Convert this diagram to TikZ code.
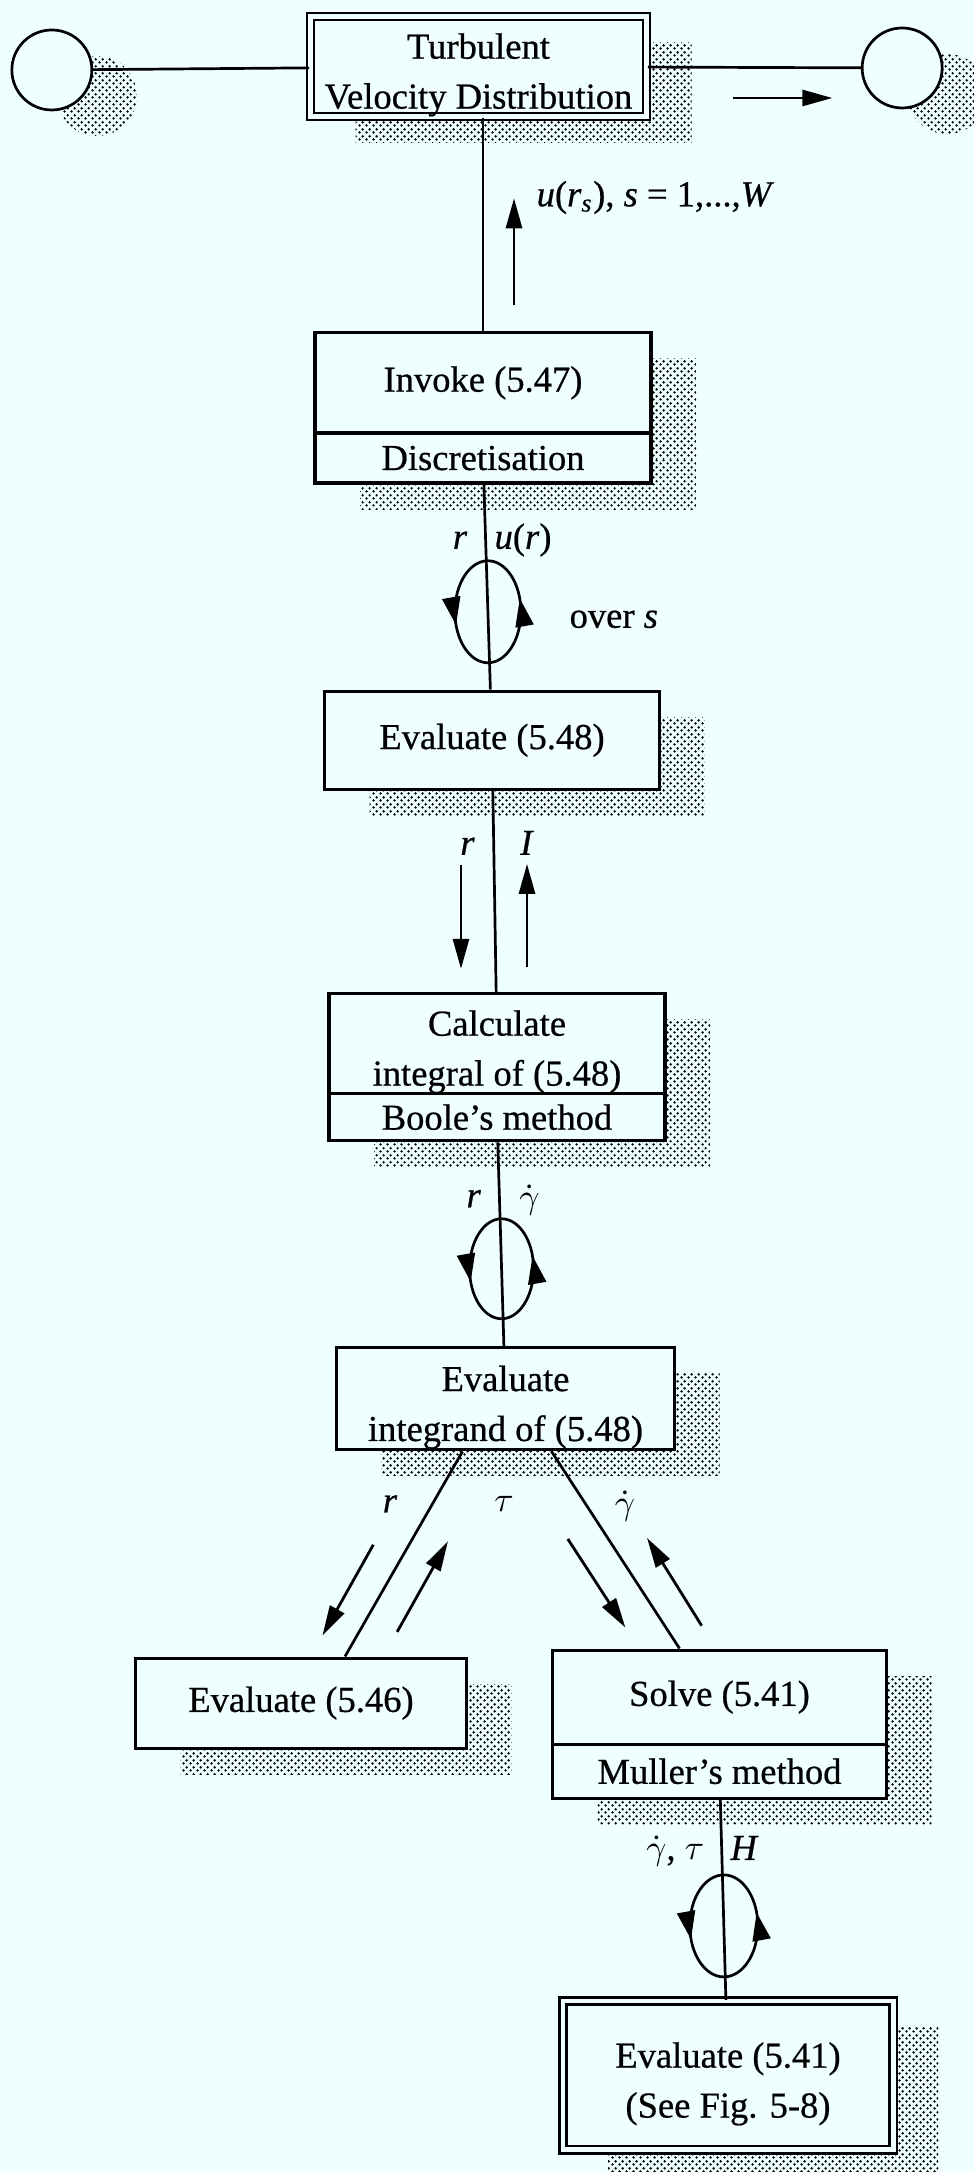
\documentclass[tikz,border=0pt]{standalone}
\usepackage{fontspec}
\setmainfont{Liberation Serif}[FakeBold=0.6]
\usetikzlibrary{positioning, calc, arrows.meta, patterns, decorations.markings}

\definecolor{paper}{RGB}{239,255,255}

% fine stipple used for the offset shadows
\pgfdeclarepatternformonly{shadedots}{\pgfqpoint{0pt}{0pt}}{\pgfqpoint{2pt}{2pt}}{\pgfqpoint{2pt}{2pt}}{%
  \pgfpathcircle{\pgfqpoint{0.5pt}{0.5pt}}{0.42pt}%
  \pgfpathcircle{\pgfqpoint{1.5pt}{1.5pt}}{0.42pt}%
  \pgfusepath{fill}}

% pushes two-line box texts a little lower
\newcommand{\boxlift}{\rule{0pt}{12pt}}

\begin{document}
\begin{tikzpicture}[
        font=\fontsize{10.4}{14.2}\selectfont,
        dotshadow/.style={preaction={pattern=shadedots, transform canvas={shift={(4.5mm,-2.6mm)}}}},
        proc/.style={rectangle, draw=black, fill=paper, line width=0.32mm, minimum width=3.36cm, inner sep=0pt, align=center, dotshadow},
        framed/.style={proc, line width=0.26mm, double=paper, double distance=0.45mm},
        circ/.style={circle, draw=black, fill=paper, line width=0.27mm, minimum size=0.8cm, inner sep=0pt, dotshadow},
        tag/.style={inner sep=0pt},
        link/.style={line width=0.27mm},
        flow/.style={line width=0.28mm, -{Triangle[length=3mm,width=1.6mm]}},
        loopmark/.style={postaction={decorate, decoration={markings,
            mark=at position 0.6 with {\arrow{Triangle[length=2.8mm,width=1.8mm]}}}}}
        ]
        \useasboundingbox[fill=paper] (0,0) rectangle (9.74,-21.72);

        % boxes
        \node[framed, minimum height=0.94cm] (turb) at (4.785,-0.665) {\boxlift Turbulent\\Velocity Distribution};
        \node[circ, left=2.16cm of turb, yshift=-0.035cm] (inlet) {};
        \node[circ, right=2.13cm of turb, yshift=-0.015cm] (outlet) {};
        \node[proc, minimum height=1.00cm, below=2.135cm of turb, xshift=0.045cm] (invoke) {Invoke (5.47)};
        \node[proc, minimum height=0.5cm, below=-0.3mm of invoke] (invokemeth) {Discretisation};
        \node[proc, minimum width=3.35cm, minimum height=0.98cm, below=2.05cm of invokemeth, xshift=0.09cm] (evalA) {Evaluate (5.48)};
        \node[proc, minimum height=1.00cm, below=2.01cm of evalA, xshift=0.05cm] (calc) {\boxlift Calculate\\integral of (5.48)};
        \node[proc, minimum height=0.47cm, below=-0.3mm of calc] (calcmeth) {Boole's method};
        \node[proc, minimum width=3.38cm, minimum height=1.02cm, below=2.04cm of calcmeth, xshift=0.085cm] (integrand) {\boxlift Evaluate\\integrand of (5.48)};
        \node[proc, minimum width=3.31cm, minimum height=0.9cm, below=2.05cm of integrand, xshift=-2.045cm] (evalB) {Evaluate (5.46)};
        \node[proc, minimum width=3.34cm, minimum height=0.94cm, below=1.97cm of integrand, xshift=2.14cm] (solve) {Solve (5.41)};
        \node[proc, minimum width=3.34cm, minimum height=0.54cm, below=-0.3mm of solve] (solvemeth) {Muller's method};
        \node[framed, minimum width=3.305cm, minimum height=1.485cm, below=2.0cm of solvemeth, xshift=0.085cm] (final) {\boxlift Evaluate (5.41)\\(See Fig. 5-8)};

        % connectors
        \draw[link] (inlet) -- (turb);
        \draw[link] (turb) -- (outlet);
        \draw[link] (invoke.north) -- (invoke.north |- turb.south);
        \draw[link] (invokemeth) -- (evalA) coordinate[pos=0.62] (loopA);
        \draw[link] (evalA) -- (calc) coordinate[midway] (midA);
        \draw[link] (calcmeth) -- (integrand) coordinate[pos=0.62] (loopB);
        \draw[link] ([xshift=-4.3mm]integrand.south) coordinate (dl1) -- ([xshift=4.4mm]evalB.north) coordinate (dl2);
        \draw[link] ([xshift=4.6mm]integrand.south) coordinate (dr1) -- ([xshift=-4mm]solve.north) coordinate (dr2);
        \draw[link] (solvemeth) -- (final) coordinate[pos=0.63] (loopC);

        % iteration loops
        \draw[link, loopmark] (loopA) ++(0,0.51) arc[start angle=90, end angle=270, x radius=0.33, y radius=0.51];
        \draw[link, loopmark] (loopA) ++(0,-0.51) arc[start angle=270, end angle=450, x radius=0.33, y radius=0.51];
        \draw[link, loopmark] (loopB) ++(0,0.5) arc[start angle=90, end angle=270, x radius=0.32, y radius=0.5];
        \draw[link, loopmark] (loopB) ++(0,-0.5) arc[start angle=270, end angle=450, x radius=0.32, y radius=0.5];
        \draw[link, loopmark] (loopC) ++(0,0.51) arc[start angle=90, end angle=270, x radius=0.34, y radius=0.51];
        \draw[link, loopmark] (loopC) ++(0,-0.51) arc[start angle=270, end angle=450, x radius=0.34, y radius=0.51];

        % data flow arrows
        \coordinate (flowa) at ([shift={(0.855,-0.315)}]turb.east);
        \coordinate (flowb) at ([shift={(1.845,-0.315)}]turb.east);
        \coordinate (upa) at ([shift={(0.31,0.26)}]invoke.north);
        \coordinate (upb) at ([shift={(0.31,1.33)}]invoke.north);
        \coordinate (downa) at ([shift={(-0.335,0.265)}]midA);
        \coordinate (downb) at ([shift={(-0.335,-0.775)}]midA);
        \coordinate (backa) at ([shift={(0.325,-0.755)}]midA);
        \coordinate (backb) at ([shift={(0.325,0.275)}]midA);
        \coordinate (ra1) at ($(dl1)!0.53!(dl2)!0.31cm!-90:(dl2)$);
        \coordinate (ra2) at ($(dl1)!0.97!(dl2)!0.30cm!-90:(dl2)$);
        \coordinate (ta1) at ($(dl1)!0.80!(dl2)!0.33cm!90:(dl2)$);
        \coordinate (ta2) at ($(dl1)!0.36!(dl2)!0.32cm!90:(dl2)$);
        \coordinate (sa1) at ($(dr1)!0.35!(dr2)!0.34cm!-90:(dr2)$);
        \coordinate (sa2) at ($(dr1)!0.80!(dr2)!0.34cm!-90:(dr2)$);
        \coordinate (ga1) at ($(dr1)!0.97!(dr2)!0.31cm!90:(dr2)$);
        \coordinate (ga2) at ($(dr1)!0.53!(dr2)!0.33cm!90:(dr2)$);

        \draw[flow] (flowa) -- (flowb);
        \draw[flow] (upa) -- (upb);
        \draw[flow] (downa) -- (downb);
        \draw[flow] (backa) -- (backb);
        \draw[flow] (ra1) -- (ra2);
        \draw[flow] (ta1) -- (ta2);
        \draw[flow] (sa1) -- (sa2);
        \draw[flow] (ga1) -- (ga2);

        % labels
        \node[tag, anchor=base west] (sweep) at ([shift={(0.22,-0.08)}]upb) {\textit{u}(\textit{r}\textsubscript{\textit{s}}), \textit{s} = 1,...,\textit{W}};
        \node[tag, anchor=base east] (rA) at ([shift={(-0.20,0.63)}]loopA) {\textit{r}};
        \node[tag, anchor=base west] (uA) at ([shift={(0.06,0.63)}]loopA) {\textit{u}(\textit{r})};
        \node[tag, anchor=base west] (overs) at ([shift={(0.81,-0.16)}]loopA) {over \textit{s}};
        \node[tag, anchor=base] (rM) at ([shift={(-0.27,0.365)}]midA) {\textit{r}};
        \node[tag, anchor=base] (IM) at ([shift={(0.325,0.365)}]midA) {\textit{I}};
        \node[tag, anchor=base east] (rB) at ([shift={(-0.20,0.615)}]loopB) {\textit{r}};
        \node[tag, anchor=base west] (gB) at ([shift={(0.17,0.60)}]loopB) {$\dot\gamma$};
        \node[tag, anchor=base] (rD) at ([shift={(-1.155,-0.61)}]integrand.south) {\textit{r}};
        \node[tag, anchor=base] (tD) at ([shift={(-0.015,-0.60)}]integrand.south) {$\tau$};
        \node[tag, anchor=base] (gD) at ([shift={(1.195,-0.63)}]integrand.south) {$\dot\gamma$};
        \node[tag, anchor=base east] (gC) at ([shift={(-0.19,0.66)}]loopC) {$\dot\gamma$, $\tau$};
        \node[tag, anchor=base west] (hC) at ([shift={(0.06,0.66)}]loopC) {\textit{H}};
    \end{tikzpicture}
\end{document}
